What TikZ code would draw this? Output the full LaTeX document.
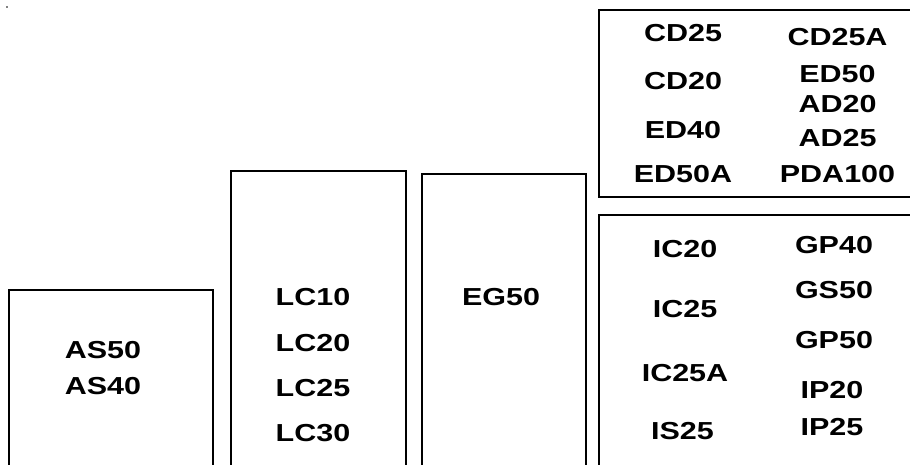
\documentclass[tikz,border=0pt]{standalone}
\usepackage{fontspec}
\setmainfont{Liberation Sans}[FakeStretch=1.24]
\begin{document}
\begin{tikzpicture}[x=1pt,y=-1pt,
  frame/.style={draw=black,line width=2pt},
  lbl/.style={inner sep=0pt,font=\fontsize{24.6}{29}\selectfont\bfseries}]
\useasboundingbox (0,0) rectangle (910,464);
\fill[black] (7,7) circle (0.8);
% boxes (open at bottom / right, running off the page)
\begin{scope}
\clip (0,0) rectangle (910,464);
\draw[frame] (9,475) -- (9,290) -- (213,290) -- (213,475);
\draw[frame] (231,475) -- (231,171) -- (406,171) -- (406,475);
\draw[frame] (422,475) -- (422,174) -- (586,174) -- (586,475);
\draw[frame] (920,10) -- (599,10) -- (599,197) -- (920,197);
\draw[frame] (920,215) -- (599,215) -- (599,475);
\end{scope}
% AS
\node[lbl] (as50) at (103,350.5) {AS50};
\node[lbl] (as40) at (103,386) {AS40};
% LC
\node[lbl] (lc10) at (313,297.5) {LC10};
\node[lbl] (lc20) at (313,343) {LC20};
\node[lbl] (lc25) at (313,388) {LC25};
\node[lbl] (lc30) at (313,433) {LC30};
% EG
\node[lbl] (eg50) at (501,297.5) {EG50};
% CD box
\node[lbl] (cd25) at (683,33) {CD25};
\node[lbl] (cd20) at (683,81) {CD20};
\node[lbl] (ed40) at (683,130) {ED40};
\node[lbl] (ed50a) at (683,174) {ED50A};
\node[lbl] (cd25a) at (837.5,37.5) {CD25A};
\node[lbl] (ed50) at (837.5,74) {ED50};
\node[lbl] (ad20) at (837.5,104) {AD20};
\node[lbl] (ad25) at (837.5,138) {AD25};
\node[lbl] (pda100) at (837.5,174) {PDA100};
% IC box
\node[lbl] (ic20) at (685,249) {IC20};
\node[lbl] (ic25) at (685,309) {IC25};
\node[lbl] (ic25a) at (685,373) {IC25A};
\node[lbl] (is25) at (682.5,431.5) {IS25};
\node[lbl] (gp40) at (834,245) {GP40};
\node[lbl] (gs50) at (834,290) {GS50};
\node[lbl] (gp50) at (834,340) {GP50};
\node[lbl] (ip20) at (832,390) {IP20};
\node[lbl] (ip25) at (832,427.5) {IP25};
\end{tikzpicture}
\end{document}
